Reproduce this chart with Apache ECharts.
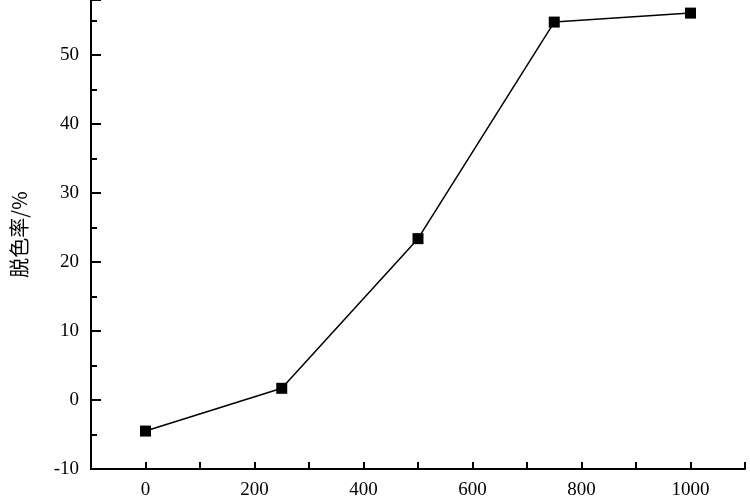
<!DOCTYPE html>
<html><head><meta charset="utf-8">
<script src="https://cdn.jsdelivr.net/npm/echarts@6/dist/echarts.min.js"></script>
<style>html,body{margin:0;padding:0;background:#fff}#c{width:750px;height:500px}</style>
</head><body><div id="c"></div>
<script>
const xValues = [0, 250, 500, 750, 1000];
const yValues = [-4.5, 1.7, 23.4, 54.8, 56.1];
const yTitle = '脱色率/%';
const chart = echarts.init(document.getElementById('c'));
const font = '"Liberation Serif","DejaVu Serif",serif';
chart.setOption({
  animation: false,
  grid: {left: 91, right: 5, top: 0, bottom: 18, containLabel: false},
  xAxis: {
    type: 'value', min: -100, max: 1100, interval: 100,
    axisLine: {onZero: false, lineStyle: {color: '#000', width: 2}},
    axisTick: {inside: true, length: 7, lineStyle: {color: '#000', width: 2}},
    axisLabel: {color: '#000', fontFamily: font, fontSize: 19, margin: 12,
      formatter: v => (v % 200 === 0 && v >= 0 && v <= 1000) ? String(v) : ''},
    splitLine: {show: false}
  },
  yAxis: {
    type: 'value', min: -10, max: 58, interval: 10,
    name: yTitle, nameLocation: 'middle', nameGap: 62,
    nameTextStyle: {color: '#000', fontSize: 20, fontFamily: '"Noto Sans CJK SC"'},
    axisLine: {onZero: false, lineStyle: {color: '#000', width: 2}},
    axisTick: {inside: true, length: 10, lineStyle: {color: '#000', width: 2}},
    minorTick: {show: true, splitNumber: 2, length: 6, lineStyle: {color: '#000', width: 2}},
    axisLabel: {color: '#000', fontFamily: font, fontSize: 19, margin: 12,
      formatter: v => v > 50 ? '' : String(v)},
    splitLine: {show: false}, minorSplitLine: {show: false}
  },
  series: [{
    type: 'line', data: xValues.map((x, i) => [x, yValues[i]]),
    symbol: 'rect', symbolSize: 11,
    lineStyle: {color: '#000', width: 1.5},
    itemStyle: {color: '#000'}
  }]
});
</script></body></html>
